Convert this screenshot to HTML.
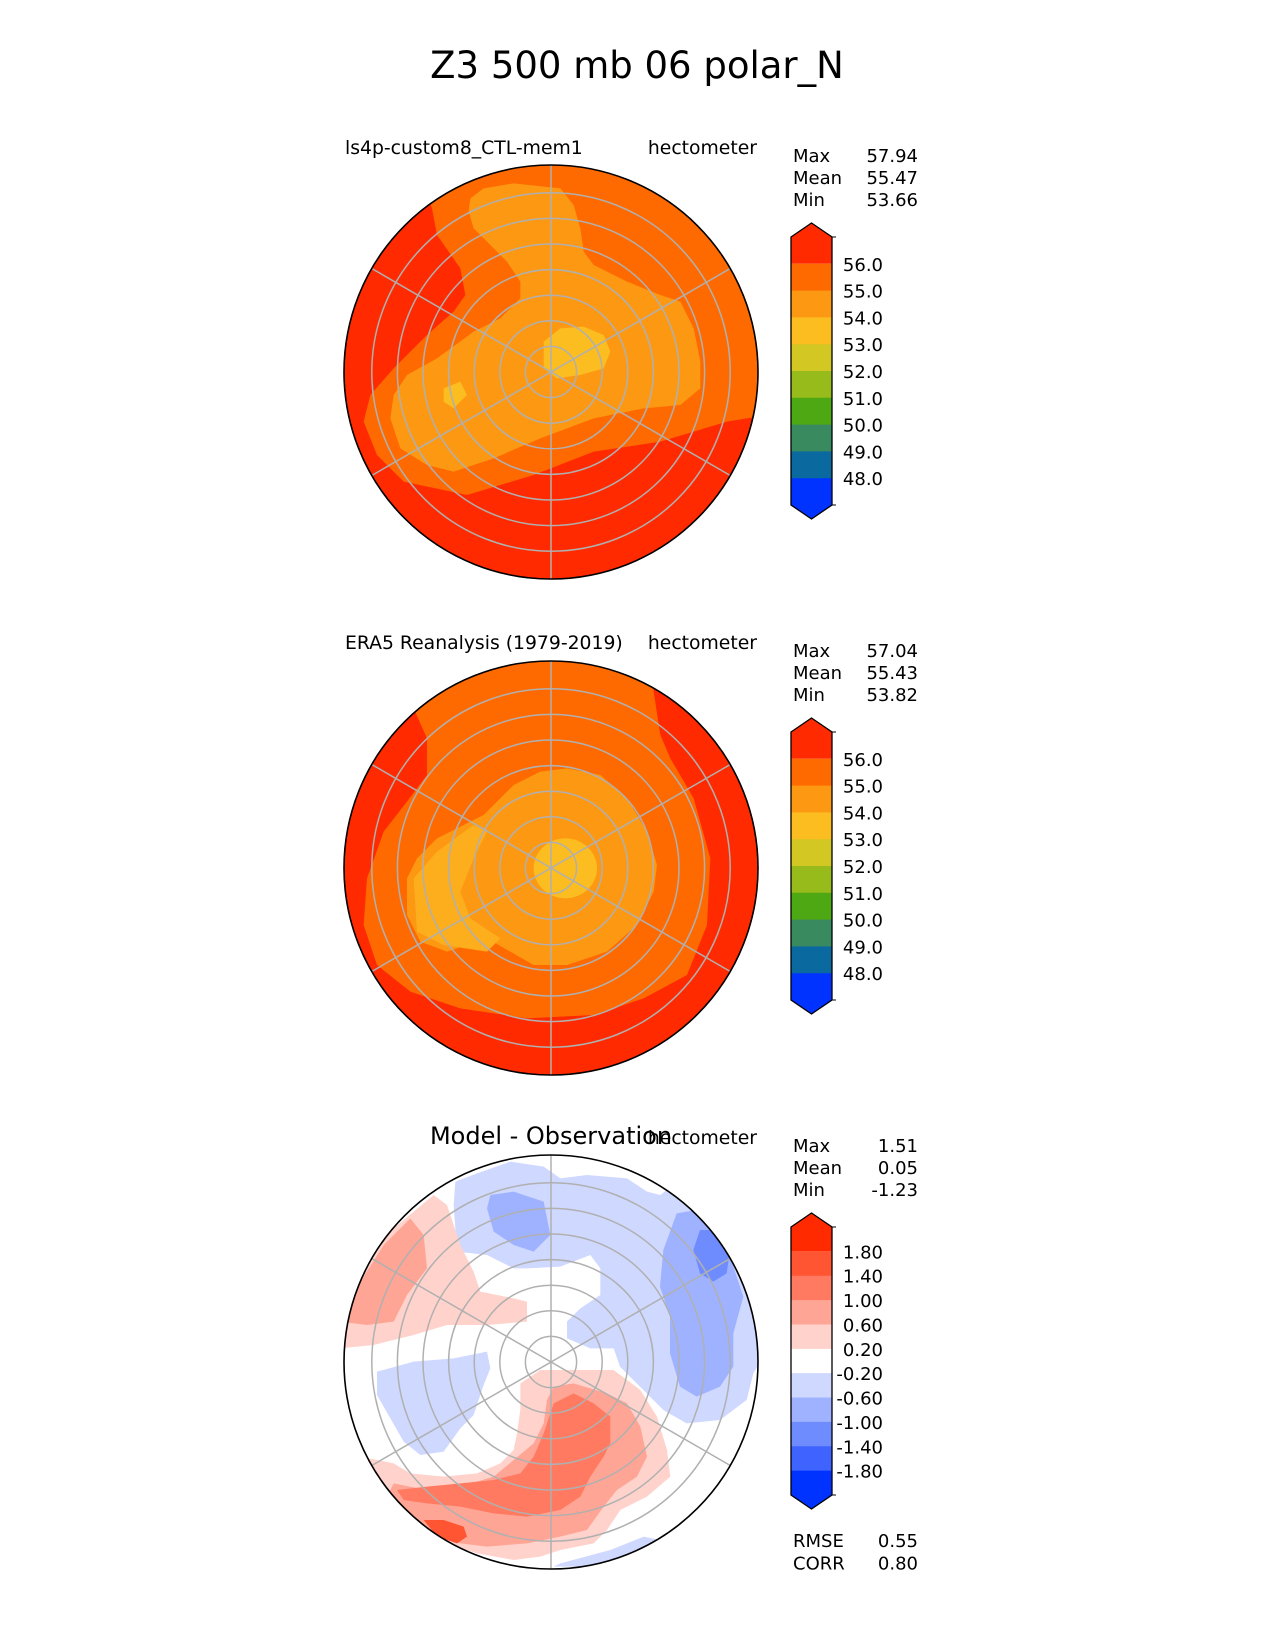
<!DOCTYPE html>
<html><head><meta charset="utf-8"><title>Z3 500 mb 06 polar_N</title>
<style>
html,body{margin:0;padding:0;background:#fff;}
svg{display:block;font-family:"DejaVu Sans","Liberation Sans",sans-serif;}
</style></head>
<body>
<svg id="fig" width="1275" height="1650" viewBox="0 0 1275 1650" xmlns="http://www.w3.org/2000/svg">
<defs>
  <clipPath id="c1" clipPathUnits="userSpaceOnUse"><circle cx="551" cy="372" r="207"/></clipPath>
  <clipPath id="c2" clipPathUnits="userSpaceOnUse"><circle cx="551" cy="868" r="207"/></clipPath>
  <clipPath id="c3" clipPathUnits="userSpaceOnUse"><circle cx="551" cy="1362" r="207"/></clipPath>
</defs>
<text x="637" y="78" font-size="37" text-anchor="middle">Z3 500 mb 06 polar_N</text>

<!-- Panel 1 map -->
<g clip-path="url(#c1)">
  <circle cx="551" cy="372" r="207" fill="#ff2a00"/>
  <g transform="translate(327,155) scale(0.33333)">
    <path fill="#ff6a00" d="M250,-10 L315,160 L330,240 L400,340 L415,420 L380,470 L300,540 L200,640 L130,720 L110,800 L150,900 L230,980 L420,1020 L620,960 L800,890 L1000,860 L1200,800 L1320,780 L1320,-10 Z"/>
    <path fill="#fd9812" d="M430,130 L470,100 L560,85 L700,100 L740,150 L760,220 L770,290 L800,330 L900,380 L1000,420 L1060,440 L1100,520 L1120,620 L1120,700 L1060,750 L950,760 L800,790 L640,850 L500,910 L380,950 L300,930 L220,880 L190,790 L200,720 L240,660 L330,610 L440,530 L520,490 L580,430 L580,380 L540,320 L480,260 L440,220 L425,170 Z"/>
    <path fill="#fcbd20" d="M650,560 L700,520 L770,515 L830,540 L850,590 L830,640 L760,660 L690,670 L650,640 Z M350,700 L400,680 L420,720 L380,760 L350,740 Z"/>
  </g>
</g>
<!-- Panel 2 map -->
<g clip-path="url(#c2)">
  <circle cx="551" cy="868" r="207" fill="#ff2a00"/>
  <g transform="translate(327,625) scale(0.33333)">
    <path fill="#ff6a00" d="M260,0 L260,250 L300,340 L300,450 L240,530 L170,620 L120,760 L110,900 L150,1020 L250,1100 L400,1150 L600,1180 L800,1170 L950,1120 L1080,1050 L1140,900 L1150,700 L1100,520 L1030,400 L1000,330 L980,200 L960,0 Z"/>
    <path fill="#fd9812" d="M330,640 L470,570 L560,480 L640,440 L720,430 L820,450 L900,520 L960,620 L990,720 L980,800 L930,900 L840,980 L720,1020 L620,1020 L550,980 L480,940 L360,980 L280,950 L240,870 L240,760 L270,700 Z"/>
    <path fill="#fdae1c" d="M260,760 L330,680 L440,600 L480,620 L440,700 L400,800 L430,880 L520,940 L480,980 L350,960 L270,920 Z"/>
    <ellipse cx="715" cy="730" rx="95" ry="90" fill="#fcbd20"/>
  </g>
</g>
<!-- Panel 3 map -->
<g clip-path="url(#c3)">
  <circle cx="551" cy="1362" r="207" fill="#ffffff"/>
  <g transform="translate(327,1095) scale(0.33333)">
    <path fill="#cfd8ff" d="M385,260 L450,235 L550,200 L650,215 L700,250 L780,240 L900,250 L960,290 L1000,300 L1050,260 L1100,290 L1300,400 L1300,800 L1279,835 L1259,915 L1179,975 L1079,985 L1009,945 L939,875 L879,815 L860,760 L790,760 L720,730 L720,680 L760,640 L820,600 L820,520 L790,480 L700,515 L600,520 L560,520 L480,480 L390,470 L380,330 Z"/>
    <path fill="#cfd8ff" d="M150,830 L260,800 L380,790 L480,770 L490,820 L470,870 L440,960 L400,1000 L350,1070 L280,1080 L230,1040 L150,900 Z"/>
    <path fill="#9fb2ff" d="M490,300 L560,290 L650,320 L670,420 L620,470 L560,450 L500,410 L480,340 Z"/>
    <g transform="translate(879,15)">
      <path fill="#9fb2ff" d="M170,340 L230,330 L300,380 L330,470 L370,590 L340,700 L340,800 L300,860 L230,890 L180,860 L150,760 L150,650 L120,560 L130,450 Z"/>
      <path fill="#6f8cff" d="M240,390 L280,390 L330,450 L320,520 L280,545 L240,520 L220,450 Z"/>
    </g>
    <path fill="#ffd3cc" d="M130,480 L200,400 L320,300 L360,330 L400,450 L440,530 L460,590 L560,610 L600,620 L600,680 L480,690 L360,690 L260,720 L140,750 L40,760 L40,480 Z"/>
    <path fill="#ffa595" d="M100,560 L170,450 L250,370 L290,420 L300,520 L240,600 L200,680 L120,690 L40,680 L40,600 Z"/>
  </g>
  <g transform="translate(327,1350) scale(0.33333)">
    <path fill="#ffd3cc" d="M580,100 L640,60 L860,60 L940,120 L990,200 L1020,300 L1030,380 L960,440 L880,480 L840,540 L800,580 L700,600 L640,620 L560,630 L450,610 L330,570 L250,520 L180,460 L100,400 L100,320 L150,330 L200,340 L250,370 L350,380 L450,370 L520,340 L560,300 L570,250 L580,180 Z"/>
    <path fill="#ffa595" d="M660,150 L680,110 L740,100 L840,130 L900,160 L940,230 L960,320 L930,380 L870,420 L830,470 L780,540 L700,560 L600,580 L480,590 L400,580 L300,550 L230,500 L180,440 L200,400 L300,420 L400,410 L500,380 L560,330 L620,280 L650,220 Z"/>
    <path fill="#ff7a60" d="M680,160 L740,130 L800,160 L850,200 L850,280 L830,320 L790,380 L760,440 L700,480 L600,500 L500,490 L400,470 L300,460 L230,450 L210,420 L300,410 L400,400 L500,390 L580,370 L620,320 L650,250 Z"/>
    <path fill="#ff5533" d="M290,510 L350,510 L410,530 L420,560 L390,580 L330,560 Z"/>
    <path fill="#cfd8ff" d="M700,640 L850,600 L950,560 L1000,570 L960,610 L800,650 L680,650 Z"/>
  </g>
</g>
<g id="grids"></g>
<g id="labels"></g>
<script>
const seqLevels = ["56.0","55.0","54.0","53.0","52.0","51.0","50.0","49.0","48.0"];
const seqColors = ["#ff2a00","#ff6a00","#fd9812","#fcbd20","#d3c724","#96bb1a","#4ea814","#3a8a5f","#0a6aa0","#0033ff"];
const diffLevels = ["1.80","1.40","1.00","0.60","0.20","-0.20","-0.60","-1.00","-1.40","-1.80"];
const diffColors = ["#ff2a00","#ff5533","#ff7a60","#ffa595","#ffd3cc","#ffffff","#cfd8ff","#9fb2ff","#6f8cff","#3f63ff","#0033ff"];
const panelTitles = ["ls4p-custom8_CTL-mem1","ERA5 Reanalysis (1979-2019)","Model - Observation"];
const statNames = ["Max","Mean","Min"];
const statsModel = ["57.94","55.47","53.66"];
const statsObs = ["57.04","55.43","53.82"];
const statsDiff = ["1.51","0.05","-1.23"];
const diffScores = [["RMSE","0.55"],["CORR","0.80"]];

const NS="http://www.w3.org/2000/svg";
const fig=document.getElementById('fig');
function mk(tag,attrs,parent){const e=document.createElementNS(NS,tag);for(const k in attrs)e.setAttribute(k,attrs[k]);(parent||fig).appendChild(e);return e;}
const centers=[372,868,1362];
const cx=551, R=207;
const grids=document.getElementById('grids');
centers.forEach((cy,pi)=>{
  for(let n=1;n<=7;n++){
    const c=mk('circle',{cx:cx,cy:cy,r:25.6*n,fill:'none',stroke:'#b0b0b0','stroke-width':1.5},grids);
    
    
  }
  [90,30,150].forEach(a=>{
    const r=a*Math.PI/180;
    const l=mk('line',{x1:cx-R*Math.cos(r),y1:cy-R*Math.sin(r),x2:cx+R*Math.cos(r),y2:cy+R*Math.sin(r),stroke:'#b0b0b0','stroke-width':1.5},grids);
    
    
  });
  const b=mk('circle',{cx:cx,cy:cy,r:R,fill:'none',stroke:'#000','stroke-width':1.6},grids);
  
  
});
const L=document.getElementById('labels');
function txt(s,x,y,size,anchor,name){const t=mk('text',{x:x,y:y,'font-size':size,'text-anchor':anchor||'start'},L);t.textContent=s;
  
  
  return t;}
const off=[0,495,990];
txt(panelTitles[0],345,154,18.8,'start','panel-title-model');
txt(panelTitles[1],345,649,18.8,'start','panel-title-obs');
txt(panelTitles[2],551,1144,24,'middle','panel-title-diff');
off.forEach((o,i)=>{
  txt('hectometer',757,(i==2?1144:154+o),18.8,'end','units-label');
  const vals=[statsModel,statsObs,statsDiff][i];
  statNames.forEach((s,k)=>{
    txt(s,793,162+o+k*22,18,'start','stat-name');
    txt(vals[k],918,162+o+k*22,18,'end','stat-value');
  });
});
diffScores.forEach((d,k)=>{
  txt(d[0],793,1547+k*22.5,18,'start','score-name');
  txt(d[1],918,1547+k*22.5,18,'end','score-value');
});
function colorbar(levels,colors,o,name){
  const g=mk('g',{},fig);
  
  
  const x0=791,x1=832,xm=811.5,tipT=223+o,top=237+o,bot=505+o,tipB=519+o;
  const n=colors.length, h=(bot-top)/n;
  colors.forEach((c,k)=>{
    let y0=top+k*h, y1=top+(k+1)*h, p;
    if(k==0) p=`M${x0},${y1} L${x0},${y0} L${xm},${tipT} L${x1},${y0} L${x1},${y1} Z`;
    else if(k==n-1) p=`M${x0},${y0} L${x0},${y1} L${xm},${tipB} L${x1},${y1} L${x1},${y0} Z`;
    else p=`M${x0},${y0} H${x1} V${y1+0.5} H${x0} Z`;
    const s=mk('path',{d:p,fill:c},g);
    
    
  });
  const ol=mk('path',{d:`M${x0},${top} L${xm},${tipT} L${x1},${top} L${x1},${bot} L${xm},${tipB} L${x0},${bot} Z`,fill:'none',stroke:'#000','stroke-width':1.3},g);
  
  
  [top,bot].forEach(y=>{const t=mk('line',{x1:x1,y1:y,x2:x1+4,y2:y,stroke:'#000','stroke-width':1},g);
    
    });
  levels.forEach((lv,k)=>{
    const y=top+(k+1)*h;
    const t=mk('text',{x:883,y:y+7,'font-size':18,'text-anchor':'end'},g);
    t.textContent=lv;
    
    
  });
}
colorbar(seqLevels,seqColors,0,'model-colorbar');
colorbar(seqLevels,seqColors,495,'obs-colorbar');
colorbar(diffLevels,diffColors,990,'diff-colorbar');
</script>
</svg>
</body></html>
